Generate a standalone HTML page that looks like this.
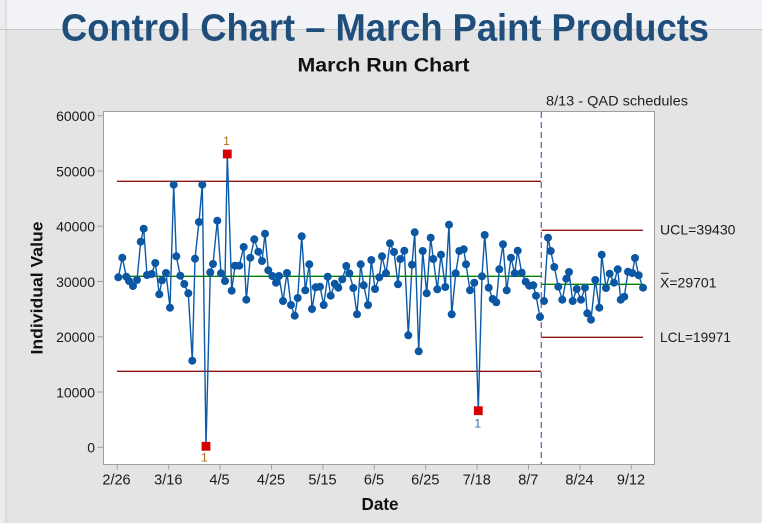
<!DOCTYPE html>
<html><head><meta charset="utf-8"><style>
html,body{margin:0;padding:0;background:#e4e4e4;}
svg{display:block;}
text{font-family:"Liberation Sans",sans-serif;}
</style></head><body>
<svg width="762" height="523" viewBox="0 0 762 523" xmlns="http://www.w3.org/2000/svg">
<defs>
<marker id="m" markerWidth="10" markerHeight="10" refX="5" refY="5" markerUnits="userSpaceOnUse"><circle cx="5" cy="5" r="4" fill="#0b57a4"/></marker>
</defs>
<!-- background -->
<rect x="0" y="0" width="762" height="523" fill="#e4e4e4"/>
<rect x="0" y="0" width="762" height="29" fill="#f2f3f6"/>
<rect x="0" y="0" width="5.5" height="523" fill="#ececec"/>
<line x1="0" y1="29.5" x2="762" y2="29.5" stroke="#c8c8c8" stroke-width="1"/>
<line x1="6" y1="0" x2="6" y2="523" stroke="#cccccc" stroke-width="1"/>

<!-- titles -->
<text x="385" y="40.7" text-anchor="middle" font-size="38" font-weight="bold" fill="#1f4e7b" textLength="648" lengthAdjust="spacingAndGlyphs">Control Chart – March Paint Products</text>
<text x="383.5" y="71.7" text-anchor="middle" font-size="19.5" font-weight="bold" fill="#111" textLength="172" lengthAdjust="spacingAndGlyphs">March Run Chart</text>
<text x="546" y="105.5" font-size="14" fill="#222" textLength="142" lengthAdjust="spacingAndGlyphs">8/13 - QAD schedules</text>

<!-- plot frame -->
<rect x="103.5" y="111.5" width="551" height="353" fill="#ffffff" stroke="#a0a0a0" stroke-width="1"/>

<!-- y ticks -->
<g stroke="#a0a0a0" stroke-width="1">
<line x1="97.5" y1="115.7" x2="103.5" y2="115.7"/>
<line x1="97.5" y1="171" x2="103.5" y2="171"/>
<line x1="97.5" y1="226.2" x2="103.5" y2="226.2"/>
<line x1="97.5" y1="281.5" x2="103.5" y2="281.5"/>
<line x1="97.5" y1="336.8" x2="103.5" y2="336.8"/>
<line x1="97.5" y1="392" x2="103.5" y2="392"/>
<line x1="97.5" y1="447.3" x2="103.5" y2="447.3"/>
</g>
<g font-size="14" fill="#1a1a1a" text-anchor="end">
<text x="95" y="121">60000</text>
<text x="95" y="176.3">50000</text>
<text x="95" y="231.5">40000</text>
<text x="95" y="286.8">30000</text>
<text x="95" y="342.1">20000</text>
<text x="95" y="397.3">10000</text>
<text x="95" y="452.6">0</text>
</g>

<!-- x ticks -->
<g stroke="#a0a0a0" stroke-width="1">
<line x1="117.3" y1="464.5" x2="117.3" y2="469.5"/>
<line x1="168.7" y1="464.5" x2="168.7" y2="469.5"/>
<line x1="220.1" y1="464.5" x2="220.1" y2="469.5"/>
<line x1="271.5" y1="464.5" x2="271.5" y2="469.5"/>
<line x1="322.9" y1="464.5" x2="322.9" y2="469.5"/>
<line x1="374.3" y1="464.5" x2="374.3" y2="469.5"/>
<line x1="425.7" y1="464.5" x2="425.7" y2="469.5"/>
<line x1="477.1" y1="464.5" x2="477.1" y2="469.5"/>
<line x1="528.5" y1="464.5" x2="528.5" y2="469.5"/>
<line x1="579.9" y1="464.5" x2="579.9" y2="469.5"/>
<line x1="631.3" y1="464.5" x2="631.3" y2="469.5"/>
</g>
<g font-size="14.5" fill="#1a1a1a" text-anchor="middle">
<text x="116.5" y="484.3">2/26</text>
<text x="168.3" y="484.3">3/16</text>
<text x="219.5" y="484.3">4/5</text>
<text x="271" y="484.3">4/25</text>
<text x="322.5" y="484.3">5/15</text>
<text x="374" y="484.3">6/5</text>
<text x="425.3" y="484.3">6/25</text>
<text x="476.7" y="484.3">7/18</text>
<text x="528.3" y="484.3">8/7</text>
<text x="579.5" y="484.3">8/24</text>
<text x="631" y="484.3">9/12</text>
</g>

<!-- axis titles -->
<text x="380" y="510" text-anchor="middle" font-size="17.5" font-weight="bold" fill="#111" textLength="37" lengthAdjust="spacingAndGlyphs">Date</text>
<text transform="translate(42.5,288) rotate(-90)" text-anchor="middle" font-size="16.5" font-weight="bold" fill="#111" textLength="133" lengthAdjust="spacingAndGlyphs">Individual Value</text>

<!-- control lines phase 1 -->
<line x1="117" y1="181.3" x2="541" y2="181.3" stroke="#8b1414" stroke-width="1.3"/>
<line x1="117" y1="371.3" x2="541" y2="371.3" stroke="#8b1414" stroke-width="1.3"/>
<line x1="117" y1="276.3" x2="541" y2="276.3" stroke="#008000" stroke-width="1.3"/>
<!-- control lines phase 2 -->
<line x1="541.5" y1="230.3" x2="643" y2="230.3" stroke="#8b1414" stroke-width="1.3"/>
<line x1="541.5" y1="337.3" x2="643" y2="337.3" stroke="#8b1414" stroke-width="1.3"/>
<line x1="541.5" y1="284.3" x2="643" y2="284.3" stroke="#008000" stroke-width="1.3"/>

<!-- stage divider -->
<line x1="541.3" y1="112" x2="541.3" y2="464" stroke="#7a5cb8" stroke-width="1.3" stroke-dasharray="6,4"/>

<!-- data phase 1 -->
<polyline fill="none" stroke="#0b5aa8" stroke-width="1.4" stroke-linejoin="round" marker-start="url(#m)" marker-mid="url(#m)" marker-end="url(#m)" points="118.3,277.3 122.3,257.7 126.3,276.7 129,281 133,286 137,280 140.7,241.7 143.7,228.7 147,275 151.7,274 155.3,263 159.3,294.3 162,280.3 166,273 170,307.7 173.7,184.7 176.3,256.3 180.3,275.7 184.3,284 188.3,293.3 192.3,360.7 195,258.7 199,222 202.3,184.7 206,446.3 210.3,272.3 213,264 217.3,220.7 221,273.3 225,281 227.3,154 231.7,290.7 235,265.7 239.3,265.7 243.7,247 246.3,299.7 250.3,257.7 254.3,239.3 258.3,251.7 262,261 265,233.7 268.3,270.3 272.3,276 276,282.7 279,276 283,301 287,273 291,305 294.7,315.7 297.7,298 301.7,236.3 305.3,290.3 309.3,264.3 312,309 315.7,287.3 320,286.7 323.7,305 327.7,276.7 330.7,295.7 334.7,283.7 338.3,287.7 342.3,279.3 346.3,266 349.3,273.3 353.3,288 357,314.3 360.7,264.3 363.7,285.3 368,305 371.3,260 375,289 379.3,277.3 382,256.3 386,273.3 390,243.3 394,252 398,284.3 400.3,259 404.3,250.7 408.3,335.3 412,264.7 414.7,232.3 418.7,351.3 422.7,251 426.7,293.3 430.7,237.7 433.3,259 437.3,289.3 441,254.7 445.3,287 449,224.7 451.7,314.3 455.7,273.3 459.3,251 463.7,249.3 466,264.3 470,290.3 474.3,282.7 478.3,410.7 482,276.3 484.7,235 488.7,287.7 492.7,299 496.3,302.3 499.3,269.3 503,244.3 506.7,290.3 511,257.7 514.7,273.3 517.7,250.7 521.7,272.7 525.7,281.7 529.3,285.7 533.3,285.3 536,295.7 540,317"/>
<!-- data phase 2 -->
<polyline fill="none" stroke="#0b5aa8" stroke-width="1.4" stroke-linejoin="round" marker-start="url(#m)" marker-mid="url(#m)" marker-end="url(#m)" points="544,301 548,237.7 550.7,251 554.3,267 558.3,286.7 562.3,299.7 566.3,278.7 569,272 572.7,301 576.7,289 581,299.7 585,287.7 587.3,313.3 591,319.7 595.3,280 599.3,307.7 601.7,254.7 606,288 609.7,273.7 614,282.7 617.7,269.3 620.7,299.7 624.3,296.7 628,271.7 632.3,273 635,258 638.7,275.3 643,287.7"/>

<!-- out-of-control points -->
<rect x="201.6" y="441.9" width="8.8" height="8.8" fill="#d40000"/>
<rect x="222.9" y="149.6" width="8.8" height="8.8" fill="#d40000"/>
<rect x="473.9" y="406.3" width="8.8" height="8.8" fill="#d40000"/>
<g font-size="12" text-anchor="middle">
<text x="226.5" y="145" fill="#b06a14">1</text>
<text x="204.3" y="461.3" fill="#b06a14">1</text>
<text x="477.7" y="427.3" fill="#2f6fb0">1</text>
</g>

<!-- right labels -->
<g font-size="14" fill="#1a1a1a">
<text x="660" y="234.3" textLength="75.5" lengthAdjust="spacingAndGlyphs">UCL=39430</text>
<text x="660" y="287.7" textLength="56.5" lengthAdjust="spacingAndGlyphs">X=29701</text>
<text x="660" y="342" textLength="71" lengthAdjust="spacingAndGlyphs">LCL=19971</text>
</g>
<line x1="661" y1="273.3" x2="668.5" y2="273.3" stroke="#1a1a1a" stroke-width="1"/>
</svg>
</body></html>
